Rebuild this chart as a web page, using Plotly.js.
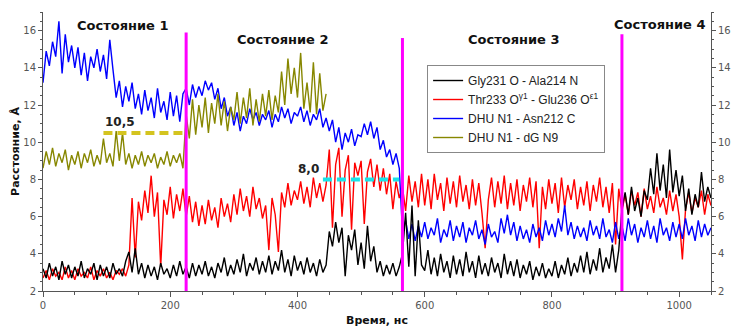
<!DOCTYPE html>
<html>
<head>
<meta charset="utf-8">
<script src="https://cdn.plot.ly/plotly-3.0.1.min.js"></script>
<style>html,body{margin:0;padding:0;background:#fff;}#chart{width:732px;height:328px;}</style>
</head>
<body>
<div id="chart"></div>
<script>
// Sampling of the time series (ns)
const timeStart = 0;
const timeStep = 5;

// Series names
const seriesNames = [
  "Gly231 O - Ala214 N",
  "Thr233 O<sup>γ1</sup> - Glu236 O<sup>ε1</sup>",
  "DHU N1 - Asn212 C",
  "DHU N1 - dG N9"
];

// Gly231 O - Ala214 N (black), t = 0..1050 step 5
const gly231 = [
  3.2, 2.7, 3.5, 2.8, 3.3, 2.6, 3.6, 2.9, 3.4, 2.7,
  3.3, 2.8, 3.6, 2.7, 3.2, 2.9, 3.5, 2.6, 3.4, 2.8,
  3.3, 2.7, 3.5, 2.9, 3.2, 2.8, 3.6, 4.1, 3.0, 4.3,
  2.9, 3.5, 2.7, 3.4, 2.8, 3.3, 2.6, 3.5, 2.9, 3.2,
  2.7, 3.4, 2.8, 3.6, 2.9, 3.3, 2.7, 3.5, 2.8, 3.4,
  2.9, 3.6, 2.8, 3.3, 2.7, 3.5, 3.0, 3.8, 2.8, 3.4,
  2.9, 3.7, 3.0, 4.0, 2.8, 3.5, 3.1, 3.8, 2.9, 3.6,
  3.0, 3.9, 2.9, 3.6, 3.1, 4.2, 3.0, 3.7, 2.8, 3.9,
  3.1, 3.6, 2.9, 3.8, 3.0, 3.5, 2.8, 3.7, 3.0, 3.4,
  5.2, 4.4, 5.7, 4.6, 5.4, 2.8, 5.0, 4.2, 5.3, 3.4,
  4.6, 3.2, 5.5, 3.6, 4.4, 3.0, 3.6, 2.8, 3.4, 2.9,
  3.5, 2.8, 3.3, 4.0, 6.2, 3.3, 6.6, 2.8, 5.8, 3.4,
  3.1, 4.2, 2.9, 3.8, 2.8, 4.0, 3.0, 3.6, 2.7, 3.9,
  2.9, 3.7, 2.8, 4.1, 3.0, 3.6, 2.7, 3.9, 2.9, 3.5,
  2.8, 3.8, 3.0, 3.5, 2.7, 4.0, 2.9, 3.6, 2.8, 3.7,
  2.7, 3.4, 2.9, 3.6, 2.6, 3.3, 2.8, 3.5, 2.7, 3.2,
  2.8, 3.6, 2.7, 3.4, 2.9, 3.8, 2.8, 3.5, 3.0, 3.9,
  3.0, 4.1, 2.9, 3.7, 3.1, 4.3, 3.0, 3.8, 3.2, 4.5,
  3.0, 4.2, 6.4, 7.3, 6.1, 7.6, 6.3, 7.0, 6.0, 7.4,
  6.9, 8.6, 7.2, 9.4, 7.4, 8.8, 7.0, 9.6, 7.3, 8.5,
  7.1, 8.2, 6.3, 7.5, 6.1, 7.2, 6.5, 8.4, 6.8, 7.6,
  7.0
];

// Thr233 Oγ1 - Glu236 Oε1 (red), t = 0..1050 step 5
const thr233 = [
  2.7, 3.1, 2.6, 3.2, 2.8, 3.0, 2.6, 3.3, 2.7, 3.1,
  2.6, 3.2, 2.8, 3.0, 2.7, 3.3, 2.6, 3.1, 2.8, 3.2,
  2.7, 3.0, 2.6, 3.1, 2.9, 3.2, 2.8, 3.4, 7.0, 3.8,
  6.8, 5.8, 7.4, 6.2, 8.2, 6.0, 7.3, 3.3, 6.9, 6.1,
  7.6, 5.9, 7.2, 6.3, 7.5, 6.0, 7.1, 5.7, 6.8, 5.5,
  6.6, 5.6, 6.9, 5.8, 6.5, 5.4, 7.0, 6.0, 6.7, 5.7,
  7.2, 6.1, 7.5, 6.3, 7.1, 6.0, 7.6, 6.4, 7.0, 5.9,
  6.6, 4.2, 7.0, 6.1, 4.1, 7.3, 6.5, 7.8, 6.6, 7.4,
  6.9, 7.9, 6.7, 7.6, 6.5, 8.1, 7.0, 7.8, 6.8, 7.7,
  9.6, 5.4, 8.8, 9.7, 6.0, 8.5, 9.3, 5.3, 8.9, 8.2,
  9.0, 5.6, 8.4, 9.1, 7.6, 8.8, 7.4, 8.6, 7.2, 8.3,
  6.4, 7.9, 7.0, 7.6, 6.3, 8.2, 6.8, 7.9, 6.5, 8.3,
  6.6, 8.0, 6.4, 8.3, 6.9, 7.8, 6.3, 8.1, 6.7, 7.9,
  6.5, 8.2, 6.8, 7.7, 6.4, 8.0, 6.6, 7.8, 6.2, 4.3,
  6.9, 8.1, 6.5, 7.9, 6.7, 8.2, 6.4, 7.8, 6.6, 8.0,
  6.3, 7.7, 6.8, 8.1, 6.5, 7.9, 4.3, 7.6, 6.4, 8.0,
  6.7, 7.8, 6.2, 8.1, 6.5, 7.7, 6.9, 8.0, 6.4, 7.6,
  6.6, 7.9, 6.3, 7.7, 6.8, 8.1, 6.5, 7.6, 6.2, 7.8,
  4.5, 7.5, 6.3, 7.2, 6.1, 7.4, 6.6, 7.3, 6.0, 7.5,
  6.4, 7.1, 6.2, 7.6, 6.5, 7.0, 6.1, 7.4, 6.3, 7.2,
  6.0, 3.7, 6.4, 7.3, 6.2, 7.0, 6.5, 7.4, 6.1, 7.2,
  6.6
];

// DHU N1 - Asn212 C (blue), t = 0..1050 step 5
const dhuAsn = [
  13.2, 14.9, 14.1, 15.4, 14.6, 16.5, 13.7, 15.8, 14.3, 15.2,
  14.0, 15.1, 13.6, 14.8, 13.3, 14.6, 14.0, 15.0, 13.8, 14.7,
  13.4, 15.5, 13.9, 12.4, 13.3, 11.9, 13.0, 12.2, 13.2, 11.8,
  12.6, 11.5, 12.8, 11.7, 12.4, 11.3, 12.9, 11.6, 12.2, 11.2,
  12.7, 11.4, 12.5, 11.1, 12.6, 12.9, 12.0, 13.1, 12.4, 13.0,
  12.5, 13.3, 12.8, 13.2, 12.3, 12.9, 11.8, 12.4, 11.4, 11.9,
  10.9, 11.6, 10.6, 11.4, 11.0, 11.8, 11.2, 11.6, 10.9, 11.5,
  11.2, 11.7, 10.8, 11.5, 11.1, 11.9, 11.3, 11.8, 11.0, 11.6,
  11.4, 11.9, 11.1, 11.7, 10.9, 11.5, 11.2, 11.8, 10.8, 11.3,
  10.6, 11.2, 10.0, 10.8, 9.6, 10.5, 10.0, 10.7, 9.8, 10.4,
  10.3, 11.0, 10.4, 11.1, 10.2, 10.8, 9.6, 10.1, 9.2, 9.6,
  8.8, 9.4, 8.6, 5.2, 5.8, 4.8, 5.6, 4.7, 5.5, 4.9,
  5.7, 4.8, 5.4, 5.0, 5.9, 4.6, 5.3, 4.9, 5.8, 4.7,
  5.5, 4.9, 5.7, 4.6, 5.4, 5.0, 5.8, 4.8, 5.3, 4.5,
  5.6, 4.9, 5.2, 4.6, 5.9, 5.1, 6.1, 5.0, 5.7, 4.7,
  5.5, 4.8, 5.3, 4.6, 5.6, 4.9, 5.4, 4.7, 5.8, 5.0,
  5.6, 4.9, 5.9, 5.2, 6.6, 5.0, 5.7, 4.8, 5.5, 4.9,
  5.4, 4.7, 5.8, 5.0, 5.5, 4.8, 5.9, 4.9, 5.3, 4.6,
  5.7, 4.8, 5.5, 4.7, 5.9, 5.0, 5.6, 4.6, 5.4, 4.9,
  5.8, 4.8, 5.5, 4.6, 5.9, 5.0, 5.4, 4.7, 5.7, 4.9,
  5.6, 4.8, 5.9, 5.0, 5.5, 4.7, 5.8, 4.9, 5.6, 5.0,
  5.4
];

// DHU N1 - dG N9 (olive), t = 0..445 step 5
const dhuDg = [
  8.6, 9.5, 8.8, 9.7, 8.7, 9.4, 8.9, 9.6, 8.5, 9.3,
  8.8, 9.5, 8.6, 9.4, 8.9, 9.6, 8.7, 9.3, 8.8, 10.2,
  8.9, 9.4, 8.7, 10.6, 9.0, 10.5, 8.8, 9.4, 8.6, 9.3,
  8.8, 9.5, 8.7, 9.3, 8.9, 9.4, 8.6, 9.2, 8.8, 9.5,
  8.7, 9.3, 8.9, 9.4, 8.6, 11.5, 10.2, 12.3, 10.4, 12.0,
  10.8, 12.4, 10.5, 12.1, 11.0, 12.6, 10.9, 12.2, 10.6, 11.9,
  11.2, 12.7, 11.0, 12.4, 11.3, 12.9, 10.9, 12.3, 11.1, 12.6,
  11.4, 12.8, 11.2, 12.5, 11.6, 13.8, 12.0, 14.5, 12.6, 14.0,
  12.4, 14.8, 11.8, 13.2, 11.6, 14.3, 11.5, 13.7, 11.7, 12.6
];

// State boundaries (ns) and the top of each marker line (Å)
const stateBounds = [225, 565, 910];
const stateTops = [15.9, 15.6, 15.8];
const stateLabels = ["Состояние 1", "Состояние 2", "Состояние 3", "Состояние 4"];

// Reference levels: value, start, end
const levelValues = [10.5, 8.0];
const levelStarts = [95, 440];
const levelEnds = [221, 560];
const levelLabels = ["10,5", "8,0"];

const colors = ["#000000", "#ff0000", "#0000ff", "#878700"];

const mk = (y, i, rank) => ({
  type: "scatter", mode: "lines", x0: timeStart, dx: timeStep, y: y,
  name: seriesNames[i], legendrank: rank,
  line: {color: colors[i], width: 1.4}, hoverinfo: "skip"
});

const traces = [
  mk(thr233, 1, 2),
  mk(dhuAsn, 2, 3),
  mk(dhuDg, 3, 4),
  mk(gly231, 0, 1),
  {type: "scatter", mode: "lines", x: [null], y: [null], yaxis: "y2", showlegend: false, hoverinfo: "skip"}
];

const shapes = [];
stateBounds.forEach((b, i) => shapes.push({
  type: "line", xref: "x", yref: "y", x0: b, x1: b, y0: 2, y1: stateTops[i],
  line: {color: "#ff00ff", width: 3}, layer: "above"
}));
const levelColors = ["#d4c41f", "#19e3e8"];
levelValues.forEach((v, i) => shapes.push({
  type: "line", xref: "x", yref: "y", x0: levelStarts[i], x1: levelEnds[i], y0: v, y1: v,
  line: {color: levelColors[i], width: 4, dash: "9px,5px"}, layer: "above"
}));

const stateFont = {family: "DejaVu Sans", size: 13, color: "#111", weight: "bold"};
const annotations = [
  {x: 125, y: 16.25, text: stateLabels[0]},
  {x: 377, y: 15.5, text: stateLabels[1]},
  {x: 739, y: 15.5, text: stateLabels[2]},
  {x: 969, y: 16.35, text: stateLabels[3]}
].map(a => Object.assign(a, {xref: "x", yref: "y", showarrow: false, font: stateFont, xanchor: "center", yanchor: "middle"}));

const lvlFont = {family: "DejaVu Sans", size: 12, color: "#222", weight: "bold"};
annotations.push({x: levelStarts[0], y: levelValues[0], text: levelLabels[0], xref: "x", yref: "y",
  showarrow: false, font: lvlFont, xanchor: "left", yanchor: "bottom", yshift: 2});
annotations.push({x: levelStarts[1], y: levelValues[1], text: levelLabels[1], xref: "x", yref: "y",
  showarrow: false, font: lvlFont, xanchor: "right", yanchor: "bottom", yshift: 1, xshift: -2});

const tickFont = {family: "DejaVu Sans", size: 10, color: "#555"};
const yCommon = {
  range: [2, 17], tick0: 2, dtick: 2, ticks: "outside", ticklen: 4, tickcolor: "#555", tickwidth: 1,
  showline: true, linecolor: "#555", linewidth: 1, showgrid: false, zeroline: false,
  tickfont: tickFont,
  minor: {dtick: 0.5, ticks: "outside", ticklen: 2, tickcolor: "#555", showgrid: false}
};

const layout = {
  width: 732, height: 328,
  margin: {l: 43, r: 21, t: 12, b: 37},
  paper_bgcolor: "#fff", plot_bgcolor: "#fff",
  showlegend: true,
  legend: {
    x: 0.575, y: 0.81, xanchor: "left", yanchor: "top",
    bgcolor: "#fff", bordercolor: "#888", borderwidth: 1,
    font: {family: "Liberation Sans", size: 12, color: "#222"},
    itemwidth: 30, tracegroupgap: 0
  },
  xaxis: {
    range: [0, 1050], tick0: 0, dtick: 200, ticks: "outside", ticklen: 5, tickcolor: "#555",
    showline: true, linecolor: "#555", linewidth: 1, showgrid: false, zeroline: false,
    tickfont: tickFont,
    minor: {dtick: 50, ticks: "outside", ticklen: 3, tickcolor: "#555", showgrid: false},
    title: {text: "Время, нс", font: {family: "DejaVu Sans", size: 11, color: "#111", weight: "bold"}, standoff: 6}
  },
  yaxis: Object.assign({}, yCommon, {
    title: {text: "Расстояние, Å", font: {family: "DejaVu Sans", size: 11, color: "#111", weight: "bold"}, standoff: 1}
  }),
  yaxis2: Object.assign({}, yCommon, {overlaying: "y", side: "right", ticklabelstandoff: 0}),
  shapes: shapes,
  annotations: annotations
};

Plotly.newPlot("chart", traces, layout, {staticPlot: true, displayModeBar: false});
</script>
</body>
</html>
